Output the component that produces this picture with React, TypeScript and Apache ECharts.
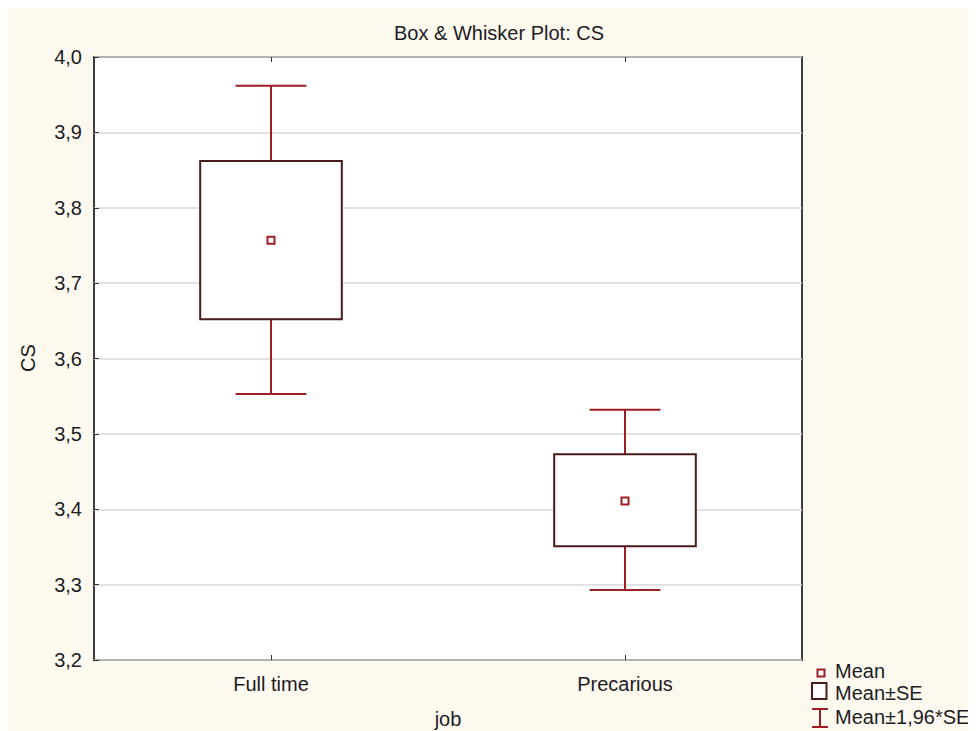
import React, { useEffect, useRef } from "react";
import * as echarts from "echarts";

const categories = ["Full time", "Precarious"];
const means = [3.757, 3.411];
const seLow = [3.652, 3.351];
const seHigh = [3.862, 3.473];
const ciLow = [3.553, 3.293];
const ciHigh = [3.962, 3.532];
const yTicks = { min: 3.2, max: 4.0, interval: 0.1 };

const WHISKER = "#9E1E26";
const BOXC = "#4A1A1E";
const FONT = "'Liberation Sans', Arial, sans-serif";
const TXT = "#1c1c24";
const FS = 20;

export default function App() {
  const ref = useRef<HTMLDivElement>(null);
  useEffect(() => {
    const chart = echarts.init(ref.current!, null, { renderer: "svg" });
    const data = categories.map((c, i) => [i, means[i], seLow[i], seHigh[i], ciLow[i], ciHigh[i]]);
    const option: any = {
      animation: false,
      backgroundColor: "transparent",
      grid: {
        left: 86,
        top: 49,
        width: 708,
        height: 603,
        show: true,
        backgroundColor: "#ffffff",
        borderColor: "#3c3c3c",
        borderWidth: 2,
      },
      xAxis: [
        {
          type: "category",
          data: categories,
          position: "bottom",
          axisLine: { show: false },
          axisTick: { show: true, inside: true, alignWithLabel: true, length: 5, lineStyle: { color: "#333" } },
          axisLabel: { fontSize: FS, fontFamily: FONT, color: TXT, margin: 14 },
          splitLine: { show: false },
        },
        {
          type: "category",
          data: categories,
          position: "top",
          axisLine: { show: false },
          axisTick: { show: true, inside: true, alignWithLabel: true, length: 5, lineStyle: { color: "#333" } },
          axisLabel: { show: false },
        },
      ],
      yAxis: {
        type: "value",
        min: yTicks.min,
        max: yTicks.max,
        interval: yTicks.interval,
        axisLine: { show: false },
        axisTick: { show: true, inside: true, length: 5, lineStyle: { color: "#333" } },
        axisLabel: {
          fontSize: FS,
          fontFamily: FONT,
          color: TXT,
          margin: 12,
          formatter: (v: number) => v.toFixed(1).replace(".", ","),
        },
        splitLine: { show: true, lineStyle: { color: "#d9d9d9", width: 1.5 } },
      },
      series: [
        {
          type: "custom",
          xAxisIndex: 0,
          data,
          renderItem: (params: any, api: any) => {
            const idx = api.value(0);
            const band = api.size([1, 0])[0];
            const [cx, yMean] = api.coord([idx, api.value(1)]);
            const ySeL = api.coord([idx, api.value(2)])[1];
            const ySeH = api.coord([idx, api.value(3)])[1];
            const yCiL = api.coord([idx, api.value(4)])[1];
            const yCiH = api.coord([idx, api.value(5)])[1];
            const bw = band * 0.4;
            const cw = band * 0.2;
            const wStyle = { stroke: WHISKER, lineWidth: 2 };
            return {
              type: "group",
              children: [
                { type: "line", shape: { x1: cx, y1: yCiH, x2: cx, y2: ySeH }, style: wStyle },
                { type: "line", shape: { x1: cx, y1: ySeL, x2: cx, y2: yCiL }, style: wStyle },
                { type: "line", shape: { x1: cx - cw / 2, y1: yCiH, x2: cx + cw / 2, y2: yCiH }, style: wStyle },
                { type: "line", shape: { x1: cx - cw / 2, y1: yCiL, x2: cx + cw / 2, y2: yCiL }, style: wStyle },
                {
                  type: "rect",
                  shape: { x: cx - bw / 2, y: ySeH, width: bw, height: ySeL - ySeH },
                  style: { fill: "#ffffff", stroke: BOXC, lineWidth: 2 },
                },
                {
                  type: "rect",
                  shape: { x: cx - 3.5, y: yMean - 3.5, width: 7, height: 7 },
                  style: { fill: "#ffffff", stroke: WHISKER, lineWidth: 2 },
                },
              ],
            };
          },
        },
      ],
      graphic: [
        {
          type: "text",
          x: 491,
          y: 25,
          style: {
            text: "Box & Whisker Plot: CS",
            fontSize: FS,
            fontFamily: FONT,
            fill: TXT,
            align: "center",
            verticalAlign: "middle",
          },
        },
        {
          type: "text",
          x: 20,
          y: 350,
          rotation: Math.PI / 2,
          style: { text: "CS", fontSize: FS, fontFamily: FONT, fill: TXT, align: "center", verticalAlign: "middle" },
        },
        {
          type: "text",
          x: 440,
          y: 711,
          style: { text: "job", fontSize: FS, fontFamily: FONT, fill: TXT, align: "center", verticalAlign: "middle" },
        },
        // legend
        {
          type: "rect",
          shape: { x: 809.5, y: 661.5, width: 7, height: 7 },
          style: { fill: "#fff", stroke: WHISKER, lineWidth: 2 },
        },
        {
          type: "text",
          x: 827,
          y: 663,
          style: { text: "Mean", fontSize: FS, fontFamily: FONT, fill: TXT, align: "left", verticalAlign: "middle" },
        },
        {
          type: "rect",
          shape: { x: 804, y: 675, width: 14.5, height: 16 },
          style: { fill: "#fff", stroke: BOXC, lineWidth: 2 },
        },
        {
          type: "text",
          x: 827,
          y: 685,
          style: { text: "Mean±SE", fontSize: FS, fontFamily: FONT, fill: TXT, align: "left", verticalAlign: "middle" },
        },
        { type: "line", shape: { x1: 812, y1: 701, x2: 812, y2: 719 }, style: { stroke: WHISKER, lineWidth: 2 } },
        { type: "line", shape: { x1: 804, y1: 701, x2: 820, y2: 701 }, style: { stroke: WHISKER, lineWidth: 2 } },
        { type: "line", shape: { x1: 804, y1: 719, x2: 820, y2: 719 }, style: { stroke: WHISKER, lineWidth: 2 } },
        {
          type: "text",
          x: 827,
          y: 709,
          style: { text: "Mean±1,96*SE", fontSize: FS, fontFamily: FONT, fill: TXT, align: "left", verticalAlign: "middle" },
        },
      ],
    };
    chart.setOption(option);
    return () => chart.dispose();
  }, []);
  return <div ref={ref} style={{ width: 968, height: 723, background: "#fef9ef" }} />;
}
